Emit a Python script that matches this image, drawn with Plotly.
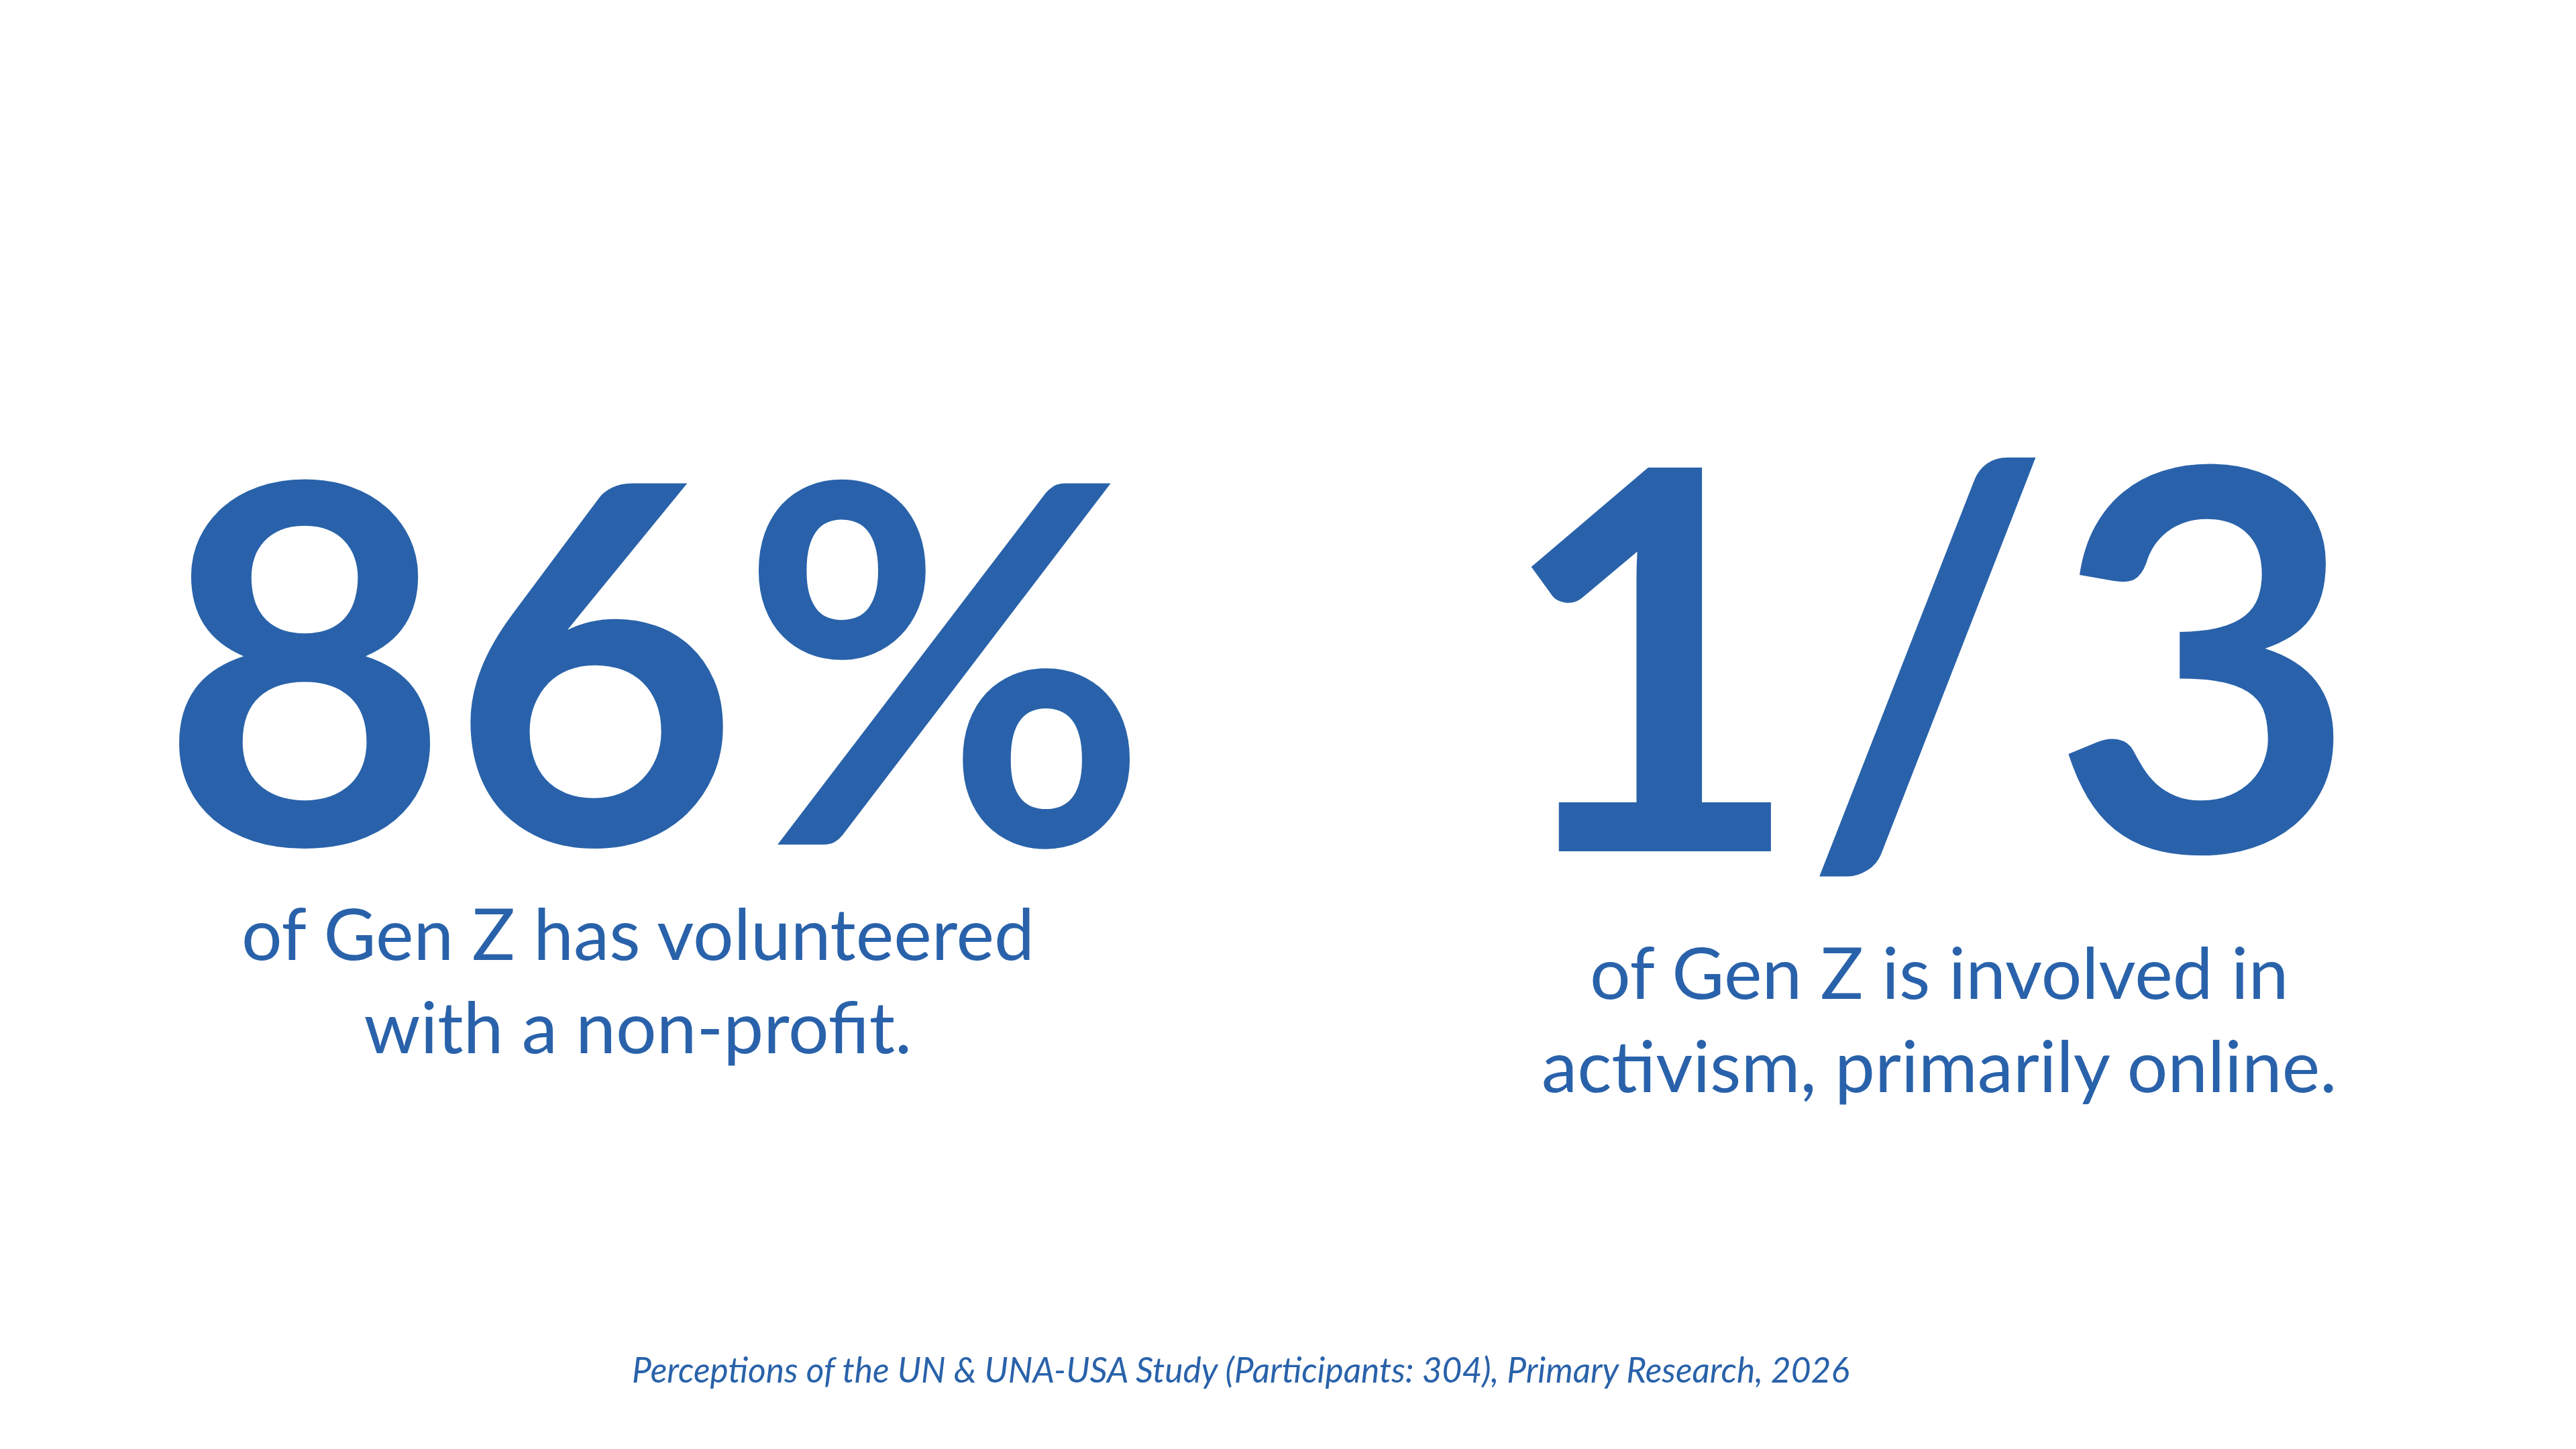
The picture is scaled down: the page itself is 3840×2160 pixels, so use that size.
import plotly.graph_objects as go

# Data
stat_values = ["86%", "1/3"]
stat_descriptions = [
    "of Gen Z has volunteered<br>with a non-profit.",
    "of Gen Z is involved in<br>activism, primarily online.",
]
source_text = "Perceptions of the UN & UNA-USA Study (Participants: 304), Primary Research, 2026"

W, H = 3840, 2160
BLUE = "#2962AA"

# Layout positions (pixels)
stat_x = [967, 2865]
stat_y = [963, 955]
stat_size = [745, 790]
desc_x = [943, 2882]
desc_y = [1451, 1509]
desc_size = [107, 107]

fig = go.Figure()
annotations = []
for i, val in enumerate(stat_values):
    annotations.append(dict(
        text=f"<b>{val}</b>", x=stat_x[i] / W, y=1 - stat_y[i] / H,
        xref="paper", yref="paper", xanchor="center", yanchor="middle",
        showarrow=False,
        font=dict(family="Lato", size=stat_size[i], color=BLUE, weight=900),
    ))
    annotations.append(dict(
        text=stat_descriptions[i], x=desc_x[i] / W, y=1 - desc_y[i] / H,
        xref="paper", yref="paper", xanchor="center", yanchor="middle",
        showarrow=False, align="center",
        font=dict(family="Lato", size=desc_size[i], color=BLUE),
    ))
annotations.append(dict(
    text=f"<i>{source_text}</i>", x=1841 / W, y=1 - 2033 / H,
    xref="paper", yref="paper", xanchor="center", yanchor="middle",
    showarrow=False,
    font=dict(family="Lato", size=51.5, color=BLUE),
))

fig.update_layout(
    width=W, height=H,
    margin=dict(l=0, r=0, t=0, b=0),
    paper_bgcolor="white", plot_bgcolor="white",
    xaxis=dict(visible=False, range=[0, 1]),
    yaxis=dict(visible=False, range=[0, 1]),
    annotations=annotations,
    showlegend=False,
)
fig.write_html("out.html")
